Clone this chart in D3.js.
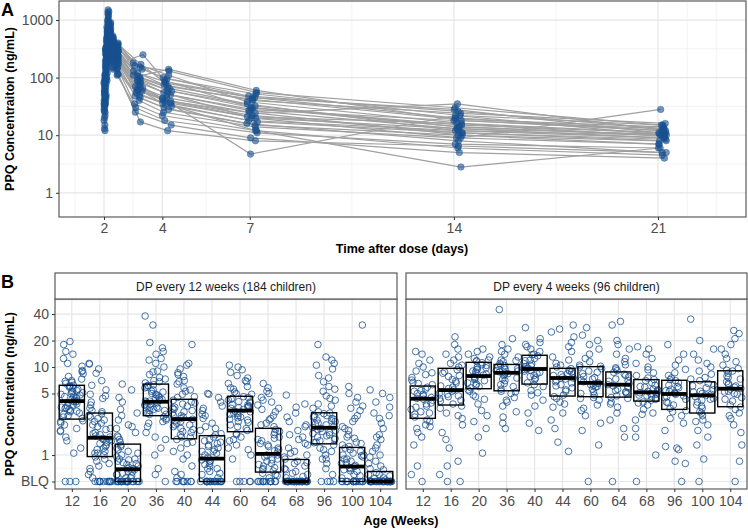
<!DOCTYPE html>
<html><head><meta charset="utf-8">
<script src="https://cdn.jsdelivr.net/npm/d3@7"></script>
<style>
body{margin:0;background:#fff}
svg{display:block}
text{font-family:"Liberation Sans",Arial,Helvetica,sans-serif}
</style>
</head><body>
<svg id="chart" width="748" height="530"></svg>
<script>
// ---------------- DATA: Panel A (PK profiles, 32 subjects) ----------------
const sampleDays = [2.0, 2.04, 2.08, 2.13, 2.2, 2.3, 2.45, 3, 4, 7, 14, 21];
const concT200 = [45,28,60,18,85,35,13,110,40,25,70,50,20,95,30,55,15,75,38,48,22,65,32,80,42,34,58,26,12,90,36,52];
const concT204 = [150,90,200,50,300,110,40,350,130,80,220,160,60,320,95,180,45,250,120,150,70,210,100,260,140,110,190,85,35,300,115,170];
const concT208 = [420,310,520,150,640,260,90,750,350,200,480,300,180,560,240,380,120,500,280,330,170,440,230,600,290,270,410,210,100,700,250,360];
const concT213 = [980,720,1350,380,1100,560,240,1500,820,470,900,650,430,1200,600,760,300,1000,620,700,400,950,520,1250,680,590,880,500,260,1400,580,740];
const concT220 = [610,450,800,260,720,380,190,900,500,320,640,420,290,700,400,520,210,650,430,470,280,600,360,760,440,390,560,340,200,850,400,500];
const concT230 = [380,300,460,180,420,260,140,520,330,220,400,290,200,450,270,350,150,410,280,310,190,380,240,480,300,250,360,230,150,500,260,330];
const concT245 = [290,230,350,140,320,200,110,400,250,170,300,220,150,340,210,270,115,310,210,240,145,290,185,370,230,190,280,175,115,380,200,250];
const concD3 = [95,70,120,40,140,55,30,180,80,48,110,65,35,160,60,90,25,130,75,85,45,100,50,150,68,58,105,250,17,170,62,88];
const concD4 = [60,42,85,25,95,35,18,110,50,30,75,45,22,130,38,58,15,70,40,55,28,65,32,100,44,36,140,90,12,80,36,52];
const concD7 = [32,22,45,14,52,18,11,38,28,16,40,25,12,55,20,30,9,42,24,20,15,35,17,48,4.7,12,60,30,8,45,21,27];
const concD14 = [14,11,20,9,22,12,7,16,18,8,24,10,6,30,13,15,5,19,35,9,10,12,11,26,22,2.8,18,14,6.5,28,16,13];
const concD21 = [10,8,12,7,15,10,6,11,13,5,16,7,4.5,15,9,11,4,14,12,28,8,9,8.5,13,10,6,12,10,5,11,9.5,10.5];
const concBySample = [concT200, concT204, concT208, concT213, concT220, concT230, concT245, concD3, concD4, concD7, concD14, concD21];
const xTicksA = [2, 4, 7, 14, 21];
const xMinorA = [1, 3, 5.5, 10.5, 17.5, 22, 23];
const yTicksA = [1, 10, 100, 1000];
const yMinorA = [3.162, 31.62, 316.2];

// ---------------- DATA: Panel B (trough PPQ by age) ----------------
const ages = ["12","16","20","36","40","44","60","64","68","96","100","104"];
const facetLabels = ["DP every 12 weeks (184 children)", "DP every 4 weeks (96 children)"];
const yTicksB = [0.5, 1, 5, 10, 20, 40];
const yTickLabelsB = ["BLQ", "1", "5", "10", "20", "40"];
const yMinorB = [0.7071, 2.236, 7.071, 14.14, 28.28, 56.57];

// box summaries (q1, median, q3)
const q1Every12 = [2.56, 0.96, 0.5, 2.8, 1.53, 0.5, 1.84, 0.64, 0.5, 1.34, 0.5, 0.5];
const medEvery12 = [4.1, 1.57, 0.69, 4.03, 2.56, 0.91, 3.2, 1.03, 0.5, 2.04, 0.74, 0.5];
const q3Every12 = [6.2, 3.0, 1.33, 6.4, 4.3, 1.66, 4.65, 2.01, 0.89, 3.02, 1.22, 0.65];
const q1Every4 = [2.61, 3.7, 5.67, 5.37, 6.4, 4.68, 4.6, 4.55, 4.1, 3.3, 3.0, 3.54];
const medEvery4 = [4.36, 5.47, 7.9, 8.6, 9.5, 7.5, 6.6, 6.3, 5.16, 4.94, 4.77, 5.67];
const q3Every4 = [6.08, 9.66, 11.3, 10.7, 13.6, 9.66, 10.1, 8.8, 7.2, 7.07, 6.8, 9.06];

// individual concentrations, DP every 12 weeks
const e12w12 = [0.5,0.5,0.5,1.05,1.2,1.45,1.6,1.85,2.0,2.2,2.4,2.6,2.7,2.9,3.1,3.2,3.4,3.5,3.7,3.8,4.0,4.1,4.2,4.4,4.5,4.8,5.0,5.1,5.4,5.6,5.9,6.1,6.2,6.5,6.9,7.3,7.8,8.4,9.1,10.2,11,12.5,14,15,18,19.5,3.3,4.6,5.3,2.3,6.7,3.9,2.8,3.0,3.6,4.3,4.9,5.7,2.45,3.15,4.05,5.2,6.0,7.0,1.9,8.9,3.45,4.65];
const e12w16 = [0.5,0.5,0.5,0.5,0.5,0.5,0.5,0.5,0.55,0.6,0.7,0.8,0.9,1.0,1.05,1.15,1.2,1.3,1.35,1.45,1.5,1.55,1.6,1.7,1.8,1.95,2.1,2.2,2.4,2.6,2.8,2.95,3.1,3.4,3.7,4.0,4.4,4.9,5.5,6.2,7.0,8.5,9.5,10.8,11,0.5,1.25,1.65,2.3,0.75,0.5,0.5,0.5,0.65,0.85,1.1,1.4,1.75,2.0,2.5,3.2,1.05,1.5,0.95,2.7,4.7];
const e12w20 = [0.5,0.5,0.5,0.5,0.5,0.5,0.5,0.5,0.5,0.5,0.5,0.5,0.5,0.5,0.5,0.5,0.5,0.55,0.58,0.6,0.62,0.65,0.68,0.7,0.75,0.8,0.85,0.9,0.95,1.0,1.1,1.2,1.3,1.4,1.5,1.65,1.8,2.0,2.2,2.5,2.8,3.0,3.3,4.0,4.5,5.5,6.4,0.72,0.88,1.15,0.5,0.5,0.5,0.5,0.5,0.6,0.64,0.7,0.82,0.9,1.05,1.25,1.6,2.1,0.55,0.78];
const e12w36 = [0.5,0.6,0.7,1.0,1.2,1.5,1.8,2.1,2.3,2.5,2.7,2.9,3.0,3.2,3.3,3.5,3.6,3.8,3.9,4.0,4.1,4.3,4.5,4.7,4.9,5.2,5.5,5.8,6.1,6.3,6.6,7.0,7.6,8.2,9.0,10,11,12.5,14,15,16.5,19,30,38,3.4,4.2,5.0,2.6,6.8,3.7,2.9,3.2,3.5,3.8,4.1,4.4,4.8,5.3,5.9,6.2,2.4,7.3,8.8,12,1.6,3.0];
const e12w40 = [0.5,0.5,0.5,0.5,0.5,0.55,0.65,0.75,0.9,1.0,1.2,1.35,1.5,1.6,1.7,1.85,1.95,2.1,2.2,2.3,2.45,2.55,2.7,2.85,3.0,3.2,3.4,3.6,3.8,4.0,4.2,4.5,4.9,5.3,5.8,6.4,7.0,7.8,8.6,9.5,10.5,11,18,2.0,2.6,3.3,1.4,0.5,0.5,0.5,0.6,1.1,1.6,1.8,2.2,2.4,2.8,3.1,3.5,3.9,4.6,5.5,6.8,8.2];
const e12w44 = [0.5,0.5,0.5,0.5,0.5,0.5,0.5,0.5,0.5,0.5,0.5,0.5,0.55,0.6,0.65,0.7,0.75,0.8,0.85,0.88,0.92,1.0,1.05,1.1,1.2,1.3,1.4,1.5,1.6,1.75,1.9,2.1,2.3,2.6,2.9,3.2,3.6,4.0,4.5,4.9,5.0,0.5,0.5,0.78,1.15,1.35,0.5,0.5,0.5,0.5,0.62,0.7,0.85,0.95,1.1,1.25,1.45,1.7,2.0,2.8,3.4,0.5];
const e12w60 = [0.5,0.5,0.5,0.5,0.9,1.0,1.15,1.3,1.45,1.6,1.75,1.9,2.0,2.2,2.35,2.5,2.65,2.8,2.95,3.1,3.3,3.45,3.6,3.75,3.9,4.05,4.2,4.4,4.6,4.9,5.2,5.6,6.0,6.5,7.0,7.5,8.0,8.7,9.3,10,10.5,2.4,3.0,3.5,4.3,1.7,0.5,1.2,1.5,2.1,2.55,2.9,3.15,3.4,3.7,4.0,4.5,5.0,5.8,6.8,2.7,3.55];
const e12w64 = [0.5,0.5,0.5,0.5,0.5,0.5,0.5,0.5,0.5,0.5,0.55,0.6,0.62,0.66,0.7,0.75,0.8,0.85,0.9,0.95,1.0,1.08,1.15,1.25,1.35,1.45,1.55,1.7,1.85,1.95,2.1,2.3,2.5,2.8,3.1,3.4,3.7,4.0,4.5,5.0,5.3,5.8,6.5,0.72,1.2,1.6,0.5,0.5,0.5,0.58,0.68,0.78,0.88,1.0,1.12,1.3,1.5,1.8,2.2,2.6,3.3,4.2];
const e12w68 = [0.5,0.5,0.5,0.5,0.5,0.5,0.5,0.5,0.5,0.5,0.5,0.5,0.5,0.5,0.5,0.5,0.5,0.5,0.5,0.5,0.5,0.5,0.55,0.6,0.65,0.7,0.75,0.8,0.85,0.9,1.0,1.1,1.2,1.35,1.5,1.7,1.9,2.1,2.4,2.7,3.0,3.5,3.8,4.8,0.62,0.95,0.5,0.5,0.5,0.5,0.5,0.5,0.5,0.5,0.57,0.68,0.82,1.05,1.3,1.6,2.2,0.5];
const e12w96 = [0.5,0.5,0.5,0.6,0.7,0.8,0.9,1.0,1.1,1.2,1.3,1.38,1.45,1.55,1.6,1.7,1.75,1.85,1.95,2.0,2.1,2.2,2.3,2.4,2.5,2.6,2.7,2.8,2.95,3.1,3.4,3.8,4.2,4.7,5.3,6.0,6.8,8.0,9.5,10.5,12,13,18,1.9,2.45,1.5,0.5,0.9,1.15,1.4,1.65,1.8,2.05,2.25,2.55,2.75,3.0,3.6,4.4,5.6,7.5,11];
const e12w100 = [0.5,0.5,0.5,0.5,0.5,0.5,0.5,0.5,0.5,0.5,0.5,0.5,0.5,0.55,0.6,0.65,0.7,0.72,0.76,0.8,0.85,0.9,0.95,1.0,1.05,1.1,1.2,1.3,1.4,1.55,1.7,1.9,2.1,2.4,2.8,3.2,3.6,4.0,4.5,5.0,6.0,30,0.68,0.98,1.25,0.5,0.5,0.5,0.5,0.58,0.66,0.74,0.82,0.9,1.0,1.15,1.35,1.6,2.0,2.6,3.4];
const e12w104 = [0.5,0.5,0.5,0.5,0.5,0.5,0.5,0.5,0.5,0.5,0.5,0.5,0.5,0.5,0.5,0.5,0.5,0.5,0.5,0.5,0.5,0.5,0.52,0.55,0.58,0.6,0.63,0.68,0.75,0.85,0.95,1.1,1.3,1.5,1.7,2.0,2.3,2.6,3.0,3.5,4.0,4.5,5.0,5.5,0.5,0.5,0.5,0.5,0.5,0.5,0.5,0.5,0.54,0.6,0.7,0.8,1.0,1.2,1.6,2.8];
// individual concentrations, DP every 4 weeks
const e4w12 = [0.5,0.6,0.75,1.3,1.6,1.8,2.0,2.2,2.4,2.7,2.9,3.1,3.3,3.6,3.9,4.2,4.5,4.7,5.0,5.3,5.6,5.9,6.3,6.7,7.1,7.6,8.2,9.0,10,11,12,14,15,3.5,4.4,2.1,2.5,3.0,3.8,4.3,4.9,5.4,6.5,8.6];
const e4w16 = [0.5,0.5,0.6,0.75,0.85,1.2,1.5,1.8,2.2,2.6,3.0,3.4,3.8,4.1,4.4,4.7,5.0,5.3,5.7,6.1,6.6,7.2,7.8,8.5,9.3,10,11,12,13,14,16,18,22,5.5,4.6,8.0,3.6,4.2,4.9,5.9,6.9,8.8,10.5,2.8];
const e4w20 = [1.05,1.6,2.0,2.4,2.8,3.2,3.8,4.3,4.8,5.3,5.8,6.2,6.6,7.0,7.4,7.8,8.1,8.5,9.0,9.5,10,10.6,11.2,11.6,12,12.5,13,14,15,16,7.6,8.8,6.0,9.8,5.5,6.4,7.2,8.3,9.3,10.4,11.8,4.6];
const e4w36 = [2.0,2.3,2.7,3.1,3.6,4.0,4.5,5.0,5.3,5.6,6.0,6.5,7.0,7.5,8.0,8.4,8.8,9.1,9.4,9.8,10.2,10.6,11,11.5,12,13,14,15,16,18,21,45,8.2,9.6,5.2,6.3,7.3,8.6,9.0,10.4,11.8,4.2];
const e4w40 = [1.9,2.3,3.0,3.6,4.2,4.8,5.4,6.0,6.6,7.2,7.8,8.4,9.0,9.4,9.7,10.3,11,11.8,12.5,13.4,14,15,16,17,18,19,21,28,9.2,10.8,8.0,6.3,7.5,8.7,9.5,10.1,12.0,13.8,5.1];
const e4w44 = [1.1,1.4,2.0,2.5,3.0,3.5,4.0,4.4,4.8,5.3,5.8,6.3,6.8,7.3,7.7,8.0,8.4,8.8,9.2,9.6,10,11,12,13,15,17,19,22,25,27,30,7.0,6.1,4.6,5.5,6.6,7.5,8.2,9.0,10.5,3.8];
const e4w60 = [0.5,1.3,1.9,2.3,2.8,3.2,3.7,4.2,4.5,4.8,5.2,5.6,6.0,6.3,6.5,6.8,7.3,7.8,8.4,9.0,9.6,10,10.5,11.5,12.5,14,16,18,20,23,28,6.2,7.1,4.4,5.0,5.9,6.6,7.6,8.7,10.2,3.4];
const e4w64 = [0.5,1.6,2.0,2.5,3.0,3.5,4.0,4.4,4.7,5.0,5.4,5.8,6.1,6.5,6.9,7.3,7.8,8.3,8.7,9.1,9.8,10.6,11.5,12.5,14,16,18,20,30,33,6.0,5.2,4.5,5.2,5.6,6.3,7.0,8.0,9.5,3.8];
const e4w68 = [0.5,1.0,1.6,2.0,2.5,2.9,3.3,3.7,4.0,4.2,4.4,4.6,4.8,5.0,5.1,5.3,5.6,5.9,6.2,6.6,7.0,7.5,8.0,8.6,9.3,10,11,12.5,14,16,17,4.9,5.4,3.9,4.3,4.7,5.2,5.5,6.0,7.2,3.0];
const e4w96 = [0.5,0.8,0.85,1.15,1.2,1.25,1.9,2.3,2.8,3.1,3.4,3.7,4.0,4.3,4.6,4.9,5.1,5.4,5.8,6.2,6.6,7.0,7.5,8.0,8.6,9.4,10.5,12,14,18,4.7,5.6,3.2,3.9,4.5,5.0,5.3,6.0,7.2,2.6];
const e4w100 = [0.5,0.9,1.3,1.6,1.9,2.2,2.5,2.8,3.1,3.4,3.7,4.0,4.3,4.6,4.9,5.2,5.5,5.8,6.1,6.5,7.0,7.6,8.3,9.0,10,11,12,14,16,20,35,4.4,5.0,3.0,3.6,4.2,4.8,5.3,6.2,7.3,2.4];
const e4w104 = [0.5,0.85,1.3,1.8,2.2,2.6,3.0,3.3,3.7,4.1,4.5,4.9,5.3,5.6,5.9,6.3,6.8,7.3,7.9,8.5,9.0,9.6,10.5,11.5,12.5,14,16,18,21,24,26,5.2,6.1,3.5,4.3,5.0,5.7,6.5,7.6,9.2,2.8];

const every12 = [e12w12,e12w16,e12w20,e12w36,e12w40,e12w44,e12w60,e12w64,e12w68,e12w96,e12w100,e12w104];
const every4 = [e4w12,e4w16,e4w20,e4w36,e4w40,e4w44,e4w60,e4w64,e4w68,e4w96,e4w100,e4w104];

// ---------------- DRAWING ----------------
const svg = d3.select("#chart");
const BLUE = "#17508f";
const GRID_MAJ = "#e6e6e6", GRID_MIN = "#f0f0f0", BORDER = "#5a5a5a", TICKTXT = "#4d4d4d";
const frac = v => v - Math.floor(v);
// deterministic jitter offset in [0,1) (visual spreading only)
const jitterU = (a, b) => frac(Math.sin(a * 127.1 + b * 311.7 + 0.5) * 43758.5453);

function styleAxis(g) {
  g.select(".domain").remove();
  g.selectAll(".tick line").attr("stroke", "#333").attr("stroke-width", 1);
  g.selectAll(".tick text").attr("fill", TICKTXT).style("font-size", "14px")
    .style("font-family", '"Liberation Sans",Arial,sans-serif');
}

// ===== Panel A =====
const A = {l: 59, r: 746, t: 1, b: 217};
const xA = d3.scaleLinear().domain([0.4567, 24.018]).range([A.l, A.r]);
const yA = d3.scaleLog().domain([0.38, 2140]).range([A.b, A.t]);
const gA = svg.append("g");
gA.append("rect").attr("x", A.l).attr("y", A.t).attr("width", A.r - A.l).attr("height", A.b - A.t).attr("fill", "#fff");
gA.selectAll(".vmin").data(xMinorA).join("line").attr("x1", d => xA(d)).attr("x2", d => xA(d))
  .attr("y1", A.t).attr("y2", A.b).attr("stroke", GRID_MIN).attr("stroke-width", 0.8);
gA.selectAll(".hmin").data(yMinorA).join("line").attr("y1", d => yA(d)).attr("y2", d => yA(d))
  .attr("x1", A.l).attr("x2", A.r).attr("stroke", GRID_MIN).attr("stroke-width", 0.8);
gA.selectAll(".vmaj").data(xTicksA).join("line").attr("x1", d => xA(d)).attr("x2", d => xA(d))
  .attr("y1", A.t).attr("y2", A.b).attr("stroke", GRID_MAJ).attr("stroke-width", 1.2);
gA.selectAll(".hmaj").data(yTicksA).join("line").attr("y1", d => yA(d)).attr("y2", d => yA(d))
  .attr("x1", A.l).attr("x2", A.r).attr("stroke", GRID_MAJ).attr("stroke-width", 1.2);

const nSubj = concT200.length;
const timeSpread = [0.04, 0.04, 0.04, 0.04, 0.04, 0.04, 0.04, 0.35, 0.35, 0.38, 0.3, 0.3];
const timeShift = [0, 0, 0, 0, 0, 0, 0, 0, 0, -0.1, 0, 0];
const subjects = d3.range(nSubj).map(i => sampleDays.map((day, k) => ({
  t: day + timeShift[k] + jitterU(i, k) * timeSpread[k],
  c: concBySample[k][i]
})));
const lineA = d3.line().x(d => xA(d.t)).y(d => yA(d.c));
gA.selectAll(".subj").data(subjects).join("path").attr("d", lineA)
  .attr("fill", "none").attr("stroke", "#a0a0a0").attr("stroke-width", 1.2);
gA.selectAll(".pt").data(subjects.flat()).join("circle")
  .attr("cx", d => xA(d.t)).attr("cy", d => yA(d.c)).attr("r", 3.3)
  .attr("fill", BLUE).attr("fill-opacity", 0.6).attr("stroke", BLUE).attr("stroke-opacity", 0.6).attr("stroke-width", 0.6);
gA.append("rect").attr("x", A.l).attr("y", A.t).attr("width", A.r - A.l).attr("height", A.b - A.t)
  .attr("fill", "none").attr("stroke", BORDER).attr("stroke-width", 1.2);

gA.append("g").attr("transform", `translate(0,${A.b})`)
  .call(d3.axisBottom(xA).tickValues(xTicksA).tickSize(3).tickPadding(3).tickFormat(d3.format("d"))).call(styleAxis);
gA.append("g").attr("transform", `translate(${A.l},0)`)
  .call(d3.axisLeft(yA).tickValues(yTicksA).tickSize(3).tickPadding(3).tickFormat(d3.format("d"))).call(styleAxis);

svg.append("text").attr("x", 402).attr("y", 253).attr("text-anchor", "middle")
  .style("font-weight", "bold").style("font-size", "12.5px").attr("fill", "#000").text("Time after dose (days)");
svg.append("text").attr("transform", `translate(14,${(A.t + A.b) / 2}) rotate(-90)`).attr("text-anchor", "middle")
  .style("font-weight", "bold").style("font-size", "12.5px").attr("fill", "#000").text("PPQ Concentraiton (ng/mL)");
svg.append("text").attr("x", 1).attr("y", 16).style("font-weight", "bold").style("font-size", "18px").text("A");

// ===== Panel B =====
const Bt = 299, Bb = 489, stripT = 273;
const yB = d3.scaleLog().domain([0.411, 59.3]).range([Bb, Bt]);
const facets = [
  {x0: 55, x1: 397, label: facetLabels[0], pts: every12, q1: q1Every12, med: medEvery12, q3: q3Every12},
  {x0: 406, x1: 747, label: facetLabels[1], pts: every4, q1: q1Every4, med: medEvery4, q3: q3Every4}
];
facets.forEach((f, fi) => {
  const g = svg.append("g");
  const xB = d3.scalePoint().domain(ages).range([f.x0, f.x1]).padding(0.6);
  const step = xB.step();
  g.append("rect").attr("x", f.x0).attr("y", Bt).attr("width", f.x1 - f.x0).attr("height", Bb - Bt).attr("fill", "#fff");
  g.selectAll(".hmin").data(yMinorB).join("line").attr("y1", d => yB(d)).attr("y2", d => yB(d))
    .attr("x1", f.x0).attr("x2", f.x1).attr("stroke", GRID_MIN).attr("stroke-width", 0.8);
  g.selectAll(".hmaj").data(yTicksB).join("line").attr("y1", d => yB(d)).attr("y2", d => yB(d))
    .attr("x1", f.x0).attr("x2", f.x1).attr("stroke", GRID_MAJ).attr("stroke-width", 1.2);
  g.selectAll(".vmaj").data(ages).join("line").attr("x1", d => xB(d)).attr("x2", d => xB(d))
    .attr("y1", Bt).attr("y2", Bb).attr("stroke", GRID_MAJ).attr("stroke-width", 1.2);

  const pts = [];
  f.pts.forEach((arr, gi) => arr.forEach((v, i) => pts.push({age: ages[gi], v, u: jitterU(i + 100 * gi, fi + 7)})));
  g.selectAll(".pt").data(pts).join("circle")
    .attr("cx", d => xB(d.age) + (d.u - 0.5) * 2 * 0.42 * step)
    .attr("cy", d => yB(d.v)).attr("r", 3.3)
    .attr("fill", "none").attr("stroke", BLUE).attr("stroke-opacity", 0.78).attr("stroke-width", 1);

  const bw = 0.9 * step;
  g.selectAll(".box").data(ages).join("rect")
    .attr("x", d => xB(d) - bw / 2).attr("width", bw)
    .attr("y", (d, i) => yB(f.q3[i])).attr("height", (d, i) => yB(f.q1[i]) - yB(f.q3[i]))
    .attr("fill", "none").attr("stroke", "#000").attr("stroke-width", 1.4);
  g.selectAll(".med").data(ages).join("line")
    .attr("x1", d => xB(d) - bw / 2).attr("x2", d => xB(d) + bw / 2)
    .attr("y1", (d, i) => yB(f.med[i])).attr("y2", (d, i) => yB(f.med[i]))
    .attr("stroke", "#000").attr("stroke-width", 3.8);

  g.append("rect").attr("x", f.x0).attr("y", Bt).attr("width", f.x1 - f.x0).attr("height", Bb - Bt)
    .attr("fill", "none").attr("stroke", BORDER).attr("stroke-width", 1.2);
  g.append("rect").attr("x", f.x0).attr("y", stripT).attr("width", f.x1 - f.x0).attr("height", Bt - stripT)
    .attr("fill", "#fff").attr("stroke", BORDER).attr("stroke-width", 1.2);
  g.append("text").attr("x", (f.x0 + f.x1) / 2).attr("y", (stripT + Bt) / 2 + 4.5).attr("text-anchor", "middle")
    .style("font-size", "12px").attr("fill", "#1a1a1a").text(f.label);

  g.append("g").attr("transform", `translate(0,${Bb})`)
    .call(d3.axisBottom(xB).tickSize(3).tickPadding(4)).call(styleAxis);
  if (fi === 0) {
    g.append("g").attr("transform", `translate(${f.x0},0)`)
      .call(d3.axisLeft(yB).tickValues(yTicksB).tickSize(3).tickPadding(3)
        .tickFormat((d, i) => yTickLabelsB[i])).call(styleAxis);
  }
});
svg.append("text").attr("x", 401).attr("y", 525).attr("text-anchor", "middle")
  .style("font-weight", "bold").style("font-size", "12.5px").text("Age (Weeks)");
svg.append("text").attr("transform", `translate(14,${(Bt + Bb) / 2}) rotate(-90)`).attr("text-anchor", "middle")
  .style("font-weight", "bold").style("font-size", "12.5px").text("PPQ Concentration (ng/mL)");
svg.append("text").attr("x", 1).attr("y", 288).style("font-weight", "bold").style("font-size", "18px").text("B");
</script>
</body></html>
